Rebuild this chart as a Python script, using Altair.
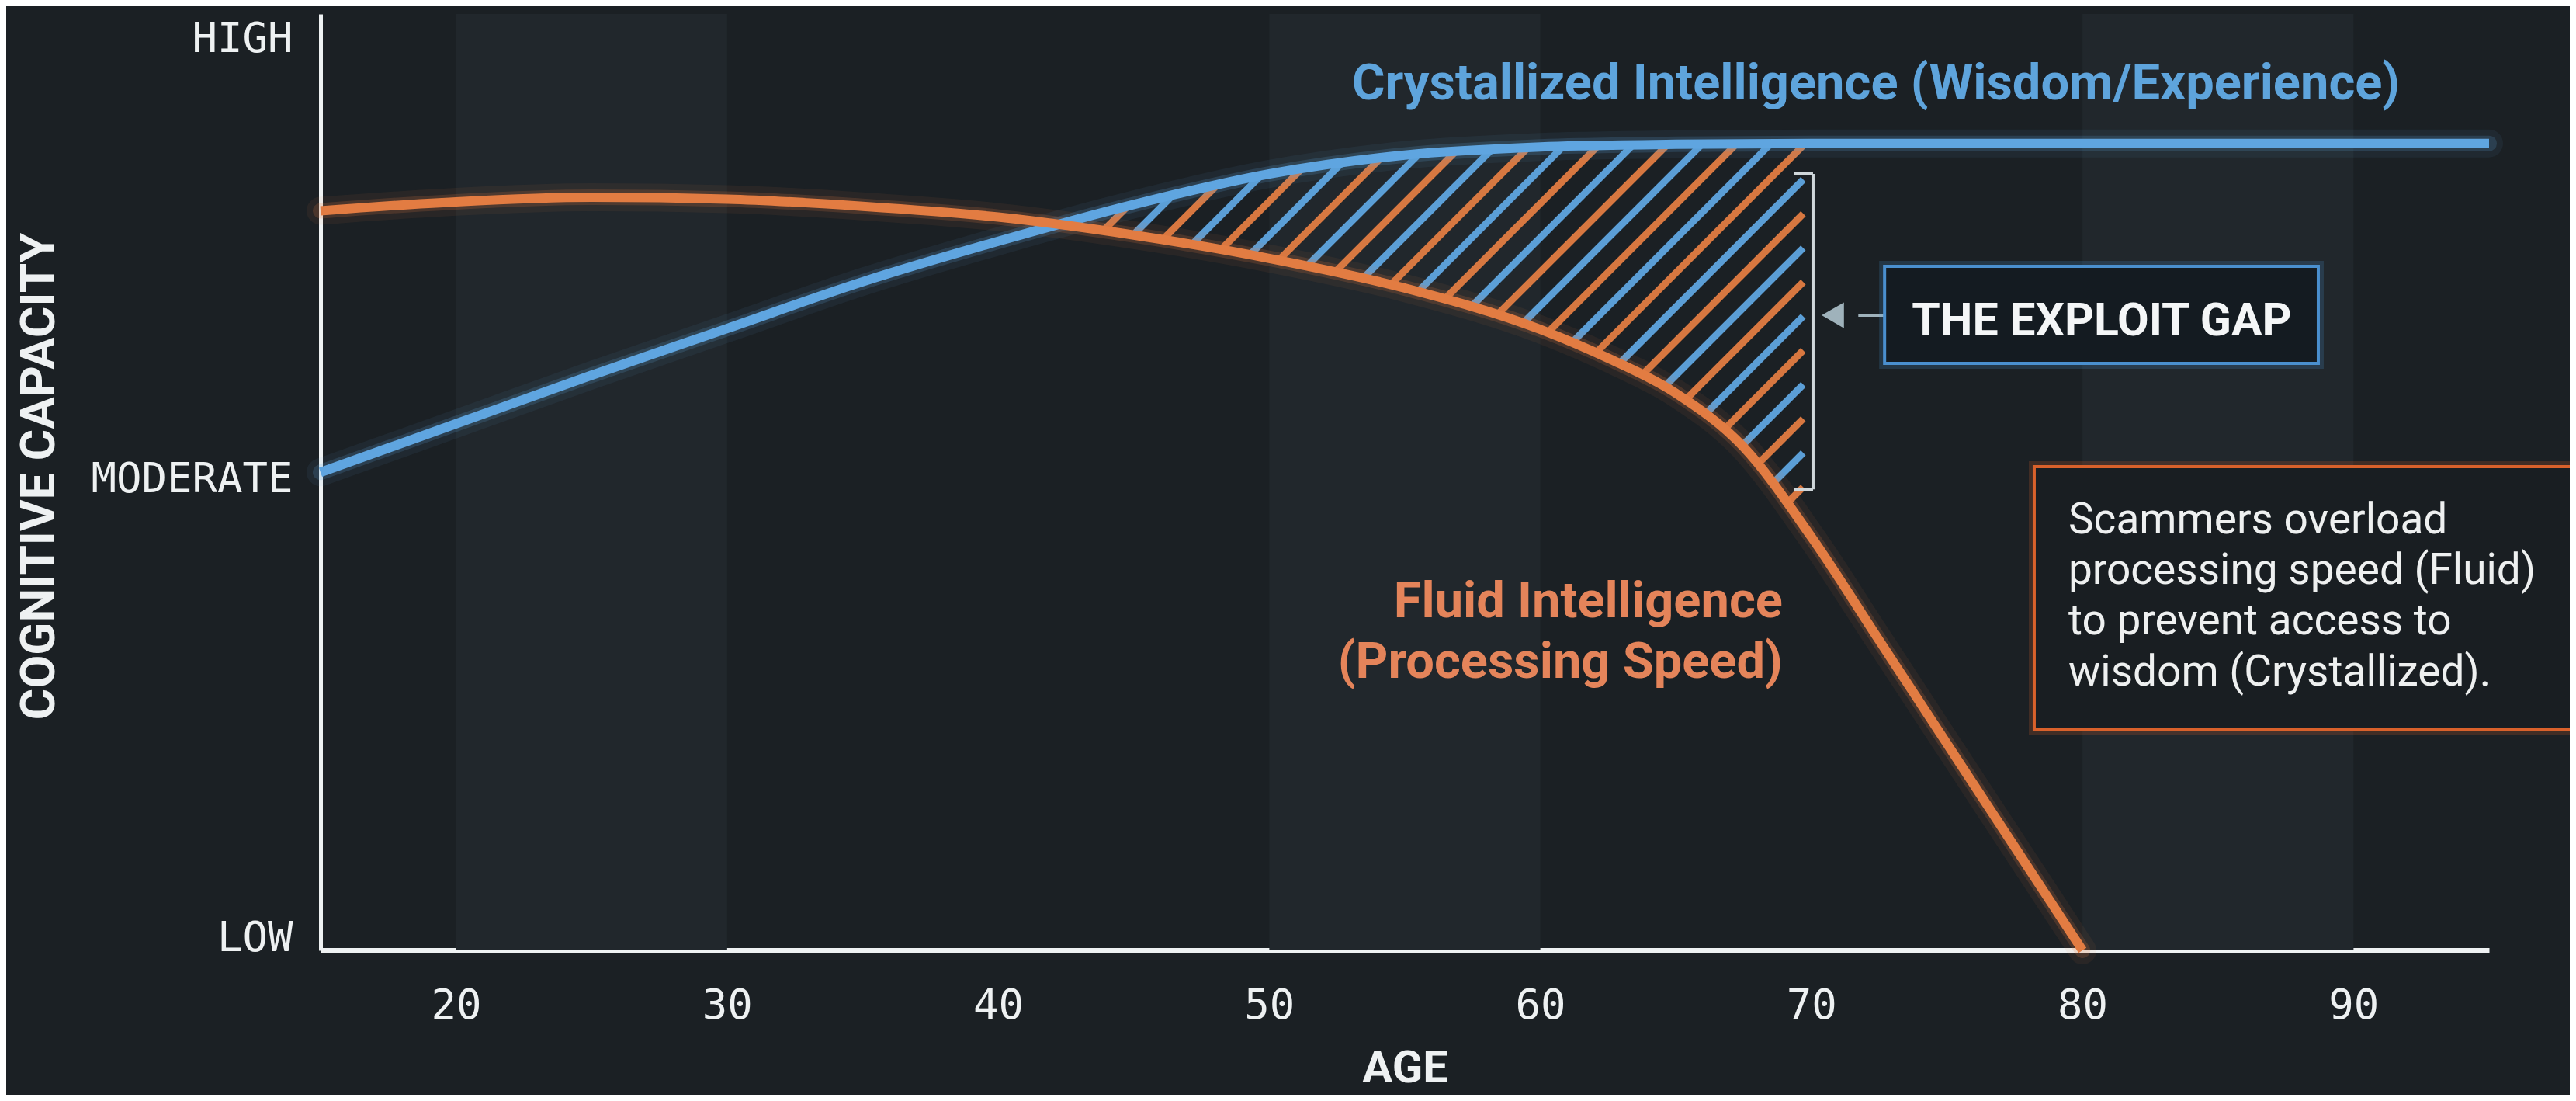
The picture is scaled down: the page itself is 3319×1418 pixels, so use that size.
import altair as alt
import numpy as np
import pandas as pd

# ---------------- data ----------------
fluid_age = [15, 20, 25, 30, 35, 40, 45, 50, 55, 60, 62.5, 65, 67.5, 70, 72.5, 75, 77.5, 80]
fluid_val = [82.3, 83.3, 83.8, 83.6, 82.8, 81.6, 79.6, 77.0, 73.7, 69.1, 65.9, 62.0, 56.0, 46.0, 34.5, 23.0, 11.5, 0.0]

cryst_age = [15, 20, 25, 30, 35, 40, 45, 50, 55, 60, 65, 70, 80, 95]
cryst_val = [53.2, 58.6, 64.0, 69.2, 74.4, 78.9, 83.0, 86.4, 88.5, 89.4, 89.7, 89.8, 89.8, 89.8]

series_names = ["Crystallized Intelligence", "Fluid Intelligence"]

age_ticks = [20, 30, 40, 50, 60, 70, 80, 90]
level_ticks = [0, 51, 100]
level_labels = ["LOW", "MODERATE", "HIGH"]

band_start = [20, 50, 80]
band_end = [30, 60, 90]

cryst_label = "Crystallized Intelligence (Wisdom/Experience)"
fluid_label_lines = ["Fluid Intelligence", "(Processing Speed)"]
gap_label = "THE EXPLOIT GAP"
note_lines = ["Scammers overload", "processing speed (Fluid)",
              "to prevent access to", "wisdom (Crystallized)."]

# ---------------- layout / style ----------------
X_MIN, X_MAX = 15, 95
Y_MIN, Y_MAX = 0, 104.2
PLOT_W, PLOT_H = 2794, 1206

BG = "#1b2024"
BAND = "#21272c"
BLUE = "#4d9fe3"
ORANGE = "#f06c2f"
BLUE_TXT = "#5ea4dc"
ORANGE_TXT = "#e4845a"
HATCH_BLUE = "#5fa5e0"
HATCH_ORANGE = "#e27c42"
WHITE = "#eef1f2"

MONO = "'DejaVu Sans Mono', 'Liberation Mono', monospace"
BOLD = "Roboto, 'Open Sans', sans-serif"
SANS = "Roboto, 'Open Sans', sans-serif"

# annotation anchors (data units)
GAP_END = 69.7
HATCH_FLOOR = 47.5
CRYST_LABEL_AT = (53.05, 94.7)
FLUID_LABEL_X = 68.94
FLUID_LABEL_Y = [37.07, 30.33]
GAP_BOX = (72.70, 88.70, 76.12, 65.32)
GAP_TEXT_AT = (80.71, 68.43)
ARROW_Y = 70.67
ARROW_TIP_CENTER = 70.79
ARROW_LINE = (71.73, 72.70)
BRACKET_X = 70.06
BRACKET_HOOK_X = 69.35
BRACKET_Y = (86.4, 51.3)
NOTE_BOX = (78.22, 98.8, 53.83, 24.54)
NOTE_X = 79.48
NOTE_Y = [46.4, 40.8, 35.2, 29.5]

x_scale = alt.Scale(domain=[X_MIN, X_MAX], nice=False, zero=False)
y_scale = alt.Scale(domain=[Y_MIN, Y_MAX], nice=False, zero=False)


# ---------------- monotone interpolation identical to d3.curveMonotoneX ----------------
def mono_tangents(xs, ys):
    xs = np.asarray(xs, float)
    ys = np.asarray(ys, float)
    n = len(xs)
    t = np.zeros(n)
    sg = lambda v: -1.0 if v < 0 else 1.0
    for i in range(1, n - 1):
        h0 = xs[i] - xs[i - 1]
        h1 = xs[i + 1] - xs[i]
        s0 = (ys[i] - ys[i - 1]) / h0
        s1 = (ys[i + 1] - ys[i]) / h1
        p = (s0 * h1 + s1 * h0) / (h0 + h1)
        t[i] = (sg(s0) + sg(s1)) * min(abs(s0), abs(s1), 0.5 * abs(p))
    t[0] = (3 * (ys[1] - ys[0]) / (xs[1] - xs[0]) - t[1]) / 2
    t[-1] = (3 * (ys[-1] - ys[-2]) / (xs[-1] - xs[-2]) - t[-2]) / 2
    return xs, ys, t


def mono_eval(curve, q):
    xs, ys, t = curve
    q = np.clip(q, xs[0], xs[-1])
    i = np.clip(np.searchsorted(xs, q) - 1, 0, len(xs) - 2)
    x0, x1 = xs[i], xs[i + 1]
    h = x1 - x0
    u = (q - x0) / h
    h00 = 2 * u**3 - 3 * u**2 + 1
    h10 = u**3 - 2 * u**2 + u
    h01 = -2 * u**3 + 3 * u**2
    h11 = u**3 - u**2
    return h00 * ys[i] + h10 * h * t[i] + h01 * ys[i + 1] + h11 * h * t[i + 1]


fluid_curve = mono_tangents(fluid_age, fluid_val)
cryst_curve = mono_tangents(cryst_age, cryst_val)

# ---------------- hatch stripes clipped between the two curves ----------------
KX = PLOT_W / (X_MAX - X_MIN)
KY = PLOT_H / (Y_MAX - Y_MIN)
STEP_PX = 44.0
SLOPE = 1.0
Yp = np.linspace(35 * KY, 95 * KY, 4000)
c_lo = (40 - X_MIN) * KX - Yp.max() / SLOPE
c_hi = (GAP_END - X_MIN) * KX
hatch_rows = []
for k, c in enumerate(np.arange(c_lo, c_hi, STEP_PX)):
    Xp = c + Yp / SLOPE
    age = X_MIN + Xp / KX
    val = Yp / KY
    inside = (age <= GAP_END) & (age >= 38) & (val >= HATCH_FLOOR) & \
             (val >= mono_eval(fluid_curve, age)) & (val <= mono_eval(cryst_curve, age))
    idx = np.where(inside)[0]
    if len(idx) < 2:
        continue
    a, b = idx[0], idx[-1]
    hatch_rows.append(dict(x=age[a], y=val[a], x2=age[b], y2=val[b],
                           c="b" if k % 2 == 0 else "o"))
hatch_df = pd.DataFrame(hatch_rows)

# ---------------- tables ----------------
band_df = pd.DataFrame({"start": band_start, "end": band_end,
                        "y0": [Y_MIN] * len(band_start), "y1": [Y_MAX] * len(band_start)})

lines_df = pd.concat([
    pd.DataFrame({"age": cryst_age, "value": cryst_val, "series": series_names[0]}),
    pd.DataFrame({"age": fluid_age, "value": fluid_val, "series": series_names[1]}),
], ignore_index=True)

color_enc = alt.Color("series:N", scale=alt.Scale(domain=series_names, range=[BLUE, ORANGE]), legend=None)

label_expr = " : ".join(
    f"datum.value == {v} ? '{t}'" for v, t in zip(level_ticks[:-1], level_labels[:-1])
) + f" : '{level_labels[-1]}'"

x_axis = alt.Axis(values=age_ticks, format="d", labelFont=MONO, labelFontSize=54, labelColor=WHITE,
                  labelPadding=44, ticks=False, tickSize=0, grid=False, domainColor=WHITE, domainWidth=7,
                  labelFlush=False, labelOverlap=False,
                  titleFont=BOLD, titleFontSize=58, titleFontWeight="bold", titleColor=WHITE,
                  titleX=PLOT_W / 2, titleY=152, titleAlign="center", titleBaseline="middle")
y_axis = alt.Axis(values=level_ticks, labelExpr=label_expr, labelFont=MONO, labelFontSize=54,
                  labelColor=WHITE, labelPadding=36, labelBaseline="alphabetic", labelLimit=500,
                  ticks=False, tickSize=0,
                  grid=False, domainColor=WHITE, domainWidth=5, labelOverlap=False,
                  titleFont=BOLD, titleFontSize=62, titleFontWeight="bold", titleColor=WHITE,
                  titleAngle=270, titleX=-363, titleY=595, titleAlign="center", titleBaseline="middle",
                  titleLimit=1200)


def X(field):
    return alt.X(field, scale=x_scale, axis=x_axis, title="AGE")


def Y(field):
    return alt.Y(field, scale=y_scale, axis=y_axis, title="COGNITIVE CAPACITY")


bands = alt.Chart(band_df).mark_rect(color=BAND).encode(
    x=X("start:Q"), x2="end:Q", y=Y("y0:Q"), y2="y1:Q")

hatch = alt.Chart(hatch_df).mark_rule(strokeWidth=9, strokeCap="butt", opacity=0.95).encode(
    x=X("x:Q"), y=Y("y:Q"), x2="x2:Q", y2="y2:Q",
    color=alt.Color("c:N", scale=alt.Scale(domain=["b", "o"], range=[HATCH_BLUE, HATCH_ORANGE]), legend=None))

glow_outer = alt.Chart(lines_df).mark_line(interpolate="monotone", strokeWidth=36, opacity=0.07,
                                           strokeCap="round").encode(
    x=X("age:Q"), y=Y("value:Q"), color=color_enc, detail="series:N")
glow_inner = alt.Chart(lines_df).mark_line(interpolate="monotone", strokeWidth=20, opacity=0.18,
                                           strokeCap="round").encode(
    x=X("age:Q"), y=Y("value:Q"), color=color_enc, detail="series:N")
lines = alt.Chart(lines_df).mark_line(interpolate="monotone", strokeWidth=12, strokeCap="butt").encode(
    x=X("age:Q"), y=Y("value:Q"), color=color_enc, detail="series:N")

# bracket
bracket_v = alt.Chart(pd.DataFrame({"x": [BRACKET_X], "y": [BRACKET_Y[0]], "y2": [BRACKET_Y[1]]})).mark_rule(
    color="#cfd6da", strokeWidth=4).encode(x=X("x:Q"), y=Y("y:Q"), y2="y2:Q")
bracket_h = alt.Chart(pd.DataFrame({"x": [BRACKET_HOOK_X] * 2, "x2": [BRACKET_X] * 2,
                                    "y": list(BRACKET_Y)})).mark_rule(
    color="#cfd6da", strokeWidth=4).encode(x=X("x:Q"), x2="x2:Q", y=Y("y:Q"))

# arrow
arrow_line = alt.Chart(pd.DataFrame({"x": [ARROW_LINE[0]], "x2": [ARROW_LINE[1]], "y": [ARROW_Y]})).mark_rule(
    color="#9fb2bb", strokeWidth=4).encode(x=X("x:Q"), x2="x2:Q", y=Y("y:Q"))
arrow_head = alt.Chart(pd.DataFrame({"x": [ARROW_TIP_CENTER], "y": [ARROW_Y]})).mark_point(
    shape="triangle-left", size=1100, filled=True, color="#9fb2bb", opacity=1).encode(x=X("x:Q"), y=Y("y:Q"))


def box(b, stroke, fill, width, opacity=1.0, fill_opacity=1.0):
    df = pd.DataFrame({"x": [b[0]], "x2": [b[1]], "y": [b[2]], "y2": [b[3]]})
    return alt.Chart(df).mark_rect(stroke=stroke, strokeWidth=width, fill=fill, fillOpacity=fill_opacity,
                                   strokeOpacity=opacity).encode(
        x=X("x:Q"), x2="x2:Q", y=Y("y:Q"), y2="y2:Q")


gap_glow = box(GAP_BOX, BLUE, BG, 14, opacity=0.18, fill_opacity=0.0)
gap_box = box(GAP_BOX, "#4a8fce", "#141b21", 4)
note_glow = box(NOTE_BOX, ORANGE, BG, 14, opacity=0.18, fill_opacity=0.0)
note_box = box(NOTE_BOX, "#d9612b", "#191e22", 4)


def text_layer(xs, ys, texts, **kw):
    df = pd.DataFrame({"x": xs, "y": ys, "text": texts})
    return alt.Chart(df).mark_text(**kw).encode(x=X("x:Q"), y=Y("y:Q"), text="text:N")


cryst_txt = text_layer([CRYST_LABEL_AT[0]], [CRYST_LABEL_AT[1]], [cryst_label],
                       font=BOLD, fontSize=65, fontWeight="bold", color=BLUE_TXT,
                       align="left", baseline="alphabetic")
fluid_txt = text_layer([FLUID_LABEL_X] * 2, FLUID_LABEL_Y, fluid_label_lines,
                       font=BOLD, fontSize=65, fontWeight="bold", color=ORANGE_TXT,
                       align="right", baseline="alphabetic")
gap_txt = text_layer([GAP_TEXT_AT[0]], [GAP_TEXT_AT[1]], [gap_label],
                     font=BOLD, fontSize=59, fontWeight="bold", color="#f4f6f7",
                     align="center", baseline="alphabetic")
note_txt = text_layer([NOTE_X] * 4, NOTE_Y, note_lines,
                      font=SANS, fontSize=55, color="#eef0f0",
                      align="left", baseline="alphabetic")

chart = alt.layer(
    bands, hatch, glow_outer, glow_inner, lines,
    bracket_v, bracket_h, arrow_line, arrow_head,
    gap_glow, gap_box, note_glow, note_box,
    cryst_txt, fluid_txt, gap_txt, note_txt,
).properties(
    width=PLOT_W, height=PLOT_H,
    padding={"left": 405, "top": 10, "right": 104, "bottom": 186},
    autosize=alt.AutoSizeParams(type="none"),
).configure(background=BG).configure_view(stroke=None)

chart.save("out.html", embed_options={"renderer": "svg", "actions": False})
